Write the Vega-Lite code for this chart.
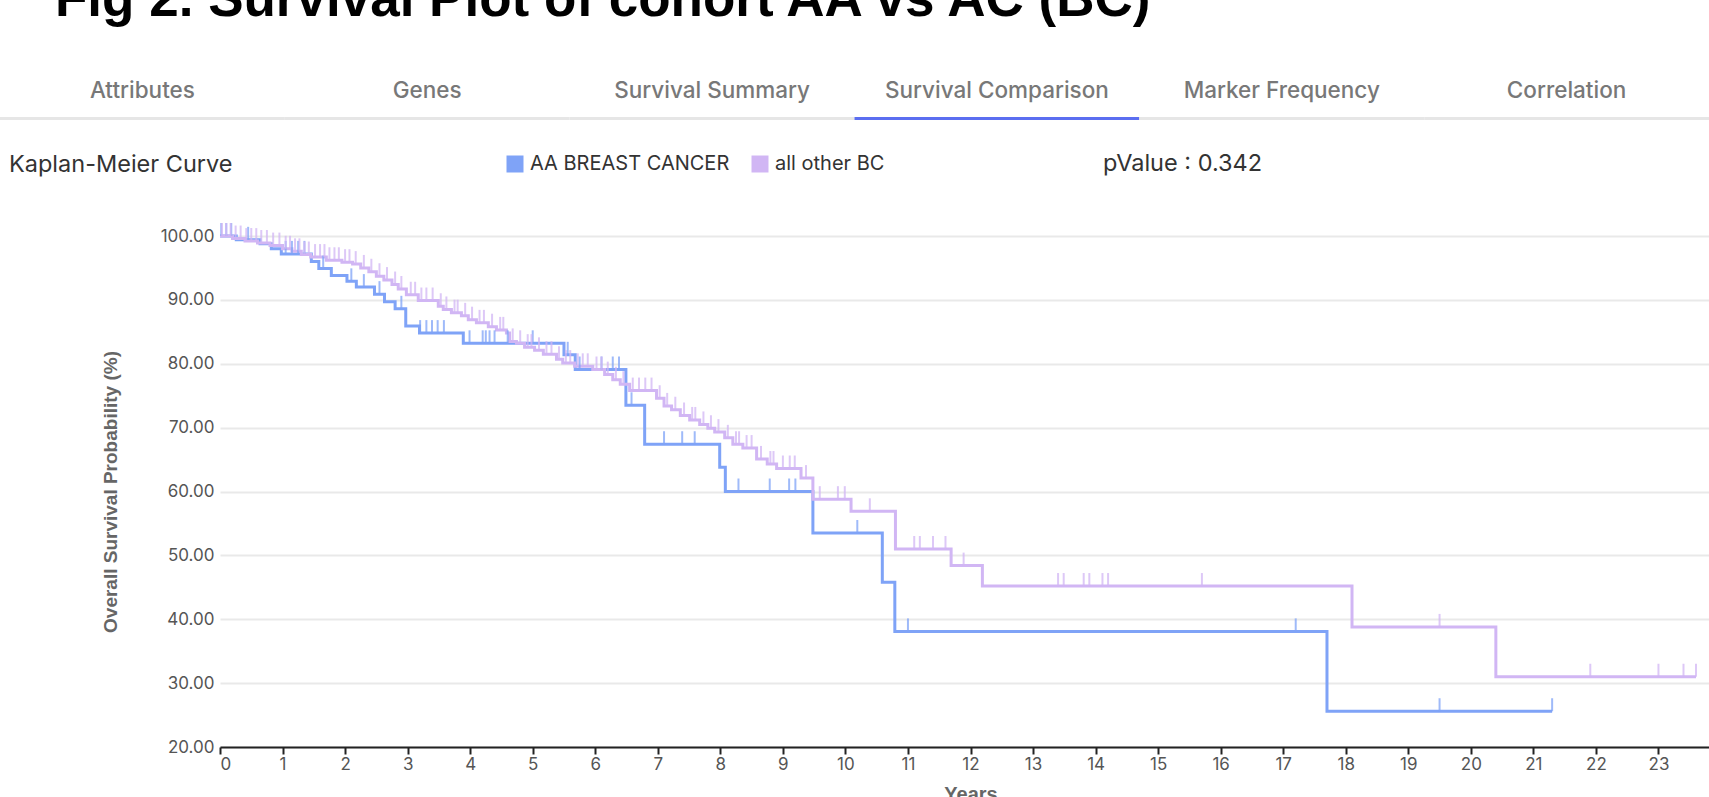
{
  "$schema": "https://vega.github.io/schema/vega-lite/v6.json",
  "padding": {"left": 0, "top": -26, "right": 0, "bottom": 0},
  "spacing": 32,
  "title": {"text": "Fig 2. Survival Plot of cohort AA vs AC (BC)", "anchor": "start", "frame": "bounds", "dx": 55, "offset": 10, "baseline": "alphabetic", "font": "Liberation Sans", "fontSize": 53, "fontWeight": "bold", "color": "#000000"},
  "config": {"view": {"stroke": null}},
  "datasets": {
    "tabs": [{"tab": "Attributes"}, {"tab": "Genes"}, {"tab": "Survival Summary"}, {"tab": "Survival Comparison"}, {"tab": "Marker Frequency"}, {"tab": "Correlation"}],
    "km": [
      {"group": "AA BREAST CANCER", "years": 0, "survival": 100},
      {"group": "AA BREAST CANCER", "years": 0.26, "survival": 99.4},
      {"group": "AA BREAST CANCER", "years": 0.64, "survival": 98.8},
      {"group": "AA BREAST CANCER", "years": 0.82, "survival": 98.0},
      {"group": "AA BREAST CANCER", "years": 0.98, "survival": 97.2},
      {"group": "AA BREAST CANCER", "years": 1.46, "survival": 96.0},
      {"group": "AA BREAST CANCER", "years": 1.58, "survival": 94.9},
      {"group": "AA BREAST CANCER", "years": 1.78, "survival": 93.8},
      {"group": "AA BREAST CANCER", "years": 2.03, "survival": 92.9},
      {"group": "AA BREAST CANCER", "years": 2.18, "survival": 92.0},
      {"group": "AA BREAST CANCER", "years": 2.47, "survival": 90.9},
      {"group": "AA BREAST CANCER", "years": 2.63, "survival": 89.7},
      {"group": "AA BREAST CANCER", "years": 2.80, "survival": 88.6},
      {"group": "AA BREAST CANCER", "years": 2.97, "survival": 85.9},
      {"group": "AA BREAST CANCER", "years": 3.19, "survival": 84.8},
      {"group": "AA BREAST CANCER", "years": 3.89, "survival": 83.2},
      {"group": "AA BREAST CANCER", "years": 5.50, "survival": 81.4},
      {"group": "AA BREAST CANCER", "years": 5.68, "survival": 79.1},
      {"group": "AA BREAST CANCER", "years": 6.49, "survival": 73.5},
      {"group": "AA BREAST CANCER", "years": 6.79, "survival": 67.4},
      {"group": "AA BREAST CANCER", "years": 7.99, "survival": 63.8},
      {"group": "AA BREAST CANCER", "years": 8.08, "survival": 60.0},
      {"group": "AA BREAST CANCER", "years": 9.48, "survival": 53.5},
      {"group": "AA BREAST CANCER", "years": 10.59, "survival": 45.8},
      {"group": "AA BREAST CANCER", "years": 10.79, "survival": 38.1},
      {"group": "AA BREAST CANCER", "years": 17.70, "survival": 25.6},
      {"group": "AA BREAST CANCER", "years": 21.30, "survival": 25.6},
      {"group": "all other BC", "years": 0, "survival": 100},
      {"group": "all other BC", "years": 0.20, "survival": 99.6},
      {"group": "all other BC", "years": 0.40, "survival": 99.2},
      {"group": "all other BC", "years": 0.60, "survival": 98.9},
      {"group": "all other BC", "years": 0.80, "survival": 98.5},
      {"group": "all other BC", "years": 1.00, "survival": 98.0},
      {"group": "all other BC", "years": 1.15, "survival": 97.6},
      {"group": "all other BC", "years": 1.30, "survival": 97.1},
      {"group": "all other BC", "years": 1.45, "survival": 96.7},
      {"group": "all other BC", "years": 1.70, "survival": 96.2},
      {"group": "all other BC", "years": 1.95, "survival": 95.9},
      {"group": "all other BC", "years": 2.12, "survival": 95.6},
      {"group": "all other BC", "years": 2.25, "survival": 95.0},
      {"group": "all other BC", "years": 2.38, "survival": 94.4},
      {"group": "all other BC", "years": 2.50, "survival": 93.7},
      {"group": "all other BC", "years": 2.62, "survival": 93.1},
      {"group": "all other BC", "years": 2.75, "survival": 92.4},
      {"group": "all other BC", "years": 2.85, "survival": 91.7},
      {"group": "all other BC", "years": 2.98, "survival": 90.8},
      {"group": "all other BC", "years": 3.17, "survival": 89.9},
      {"group": "all other BC", "years": 3.49, "survival": 89.0},
      {"group": "all other BC", "years": 3.57, "survival": 88.5},
      {"group": "all other BC", "years": 3.70, "survival": 88.0},
      {"group": "all other BC", "years": 3.86, "survival": 87.5},
      {"group": "all other BC", "years": 3.97, "survival": 86.9},
      {"group": "all other BC", "years": 4.10, "survival": 86.4},
      {"group": "all other BC", "years": 4.29, "survival": 85.8},
      {"group": "all other BC", "years": 4.42, "survival": 85.3},
      {"group": "all other BC", "years": 4.58, "survival": 84.8},
      {"group": "all other BC", "years": 4.63, "survival": 83.5},
      {"group": "all other BC", "years": 4.74, "survival": 83.2},
      {"group": "all other BC", "years": 4.87, "survival": 82.6},
      {"group": "all other BC", "years": 5.03, "survival": 82.1},
      {"group": "all other BC", "years": 5.17, "survival": 81.5},
      {"group": "all other BC", "years": 5.38, "survival": 80.7},
      {"group": "all other BC", "years": 5.48, "survival": 80.1},
      {"group": "all other BC", "years": 5.67, "survival": 79.6},
      {"group": "all other BC", "years": 5.96, "survival": 79.1},
      {"group": "all other BC", "years": 6.15, "survival": 78.3},
      {"group": "all other BC", "years": 6.28, "survival": 77.5},
      {"group": "all other BC", "years": 6.40, "survival": 76.8},
      {"group": "all other BC", "years": 6.55, "survival": 75.8},
      {"group": "all other BC", "years": 6.98, "survival": 74.6},
      {"group": "all other BC", "years": 7.10, "survival": 73.4},
      {"group": "all other BC", "years": 7.22, "survival": 72.8},
      {"group": "all other BC", "years": 7.36, "survival": 71.9},
      {"group": "all other BC", "years": 7.51, "survival": 71.2},
      {"group": "all other BC", "years": 7.67, "survival": 70.5},
      {"group": "all other BC", "years": 7.80, "survival": 69.9},
      {"group": "all other BC", "years": 7.91, "survival": 69.3},
      {"group": "all other BC", "years": 8.07, "survival": 68.4},
      {"group": "all other BC", "years": 8.20, "survival": 67.4},
      {"group": "all other BC", "years": 8.36, "survival": 66.8},
      {"group": "all other BC", "years": 8.58, "survival": 65.1},
      {"group": "all other BC", "years": 8.75, "survival": 64.3},
      {"group": "all other BC", "years": 8.90, "survival": 63.6},
      {"group": "all other BC", "years": 9.29, "survival": 62.1},
      {"group": "all other BC", "years": 9.48, "survival": 58.8},
      {"group": "all other BC", "years": 10.09, "survival": 56.9},
      {"group": "all other BC", "years": 10.80, "survival": 51.0},
      {"group": "all other BC", "years": 11.69, "survival": 48.4},
      {"group": "all other BC", "years": 12.19, "survival": 45.2},
      {"group": "all other BC", "years": 18.10, "survival": 38.8},
      {"group": "all other BC", "years": 20.40, "survival": 31.0},
      {"group": "all other BC", "years": 23.60, "survival": 31.0}
    ],
    "censor": [
      {"group": "AA BREAST CANCER", "years": 0.02, "survival": 100},
      {"group": "AA BREAST CANCER", "years": 0.10, "survival": 100},
      {"group": "AA BREAST CANCER", "years": 0.18, "survival": 100},
      {"group": "AA BREAST CANCER", "years": 0.45, "survival": 99.4},
      {"group": "AA BREAST CANCER", "years": 1.05, "survival": 97.2},
      {"group": "AA BREAST CANCER", "years": 1.15, "survival": 97.2},
      {"group": "AA BREAST CANCER", "years": 1.25, "survival": 97.2},
      {"group": "AA BREAST CANCER", "years": 1.35, "survival": 97.2},
      {"group": "AA BREAST CANCER", "years": 1.65, "survival": 94.9},
      {"group": "AA BREAST CANCER", "years": 2.10, "survival": 92.9},
      {"group": "AA BREAST CANCER", "years": 2.30, "survival": 92.0},
      {"group": "AA BREAST CANCER", "years": 2.55, "survival": 90.9},
      {"group": "AA BREAST CANCER", "years": 2.90, "survival": 88.6},
      {"group": "AA BREAST CANCER", "years": 3.20, "survival": 84.8},
      {"group": "AA BREAST CANCER", "years": 3.30, "survival": 84.8},
      {"group": "AA BREAST CANCER", "years": 3.39, "survival": 84.8},
      {"group": "AA BREAST CANCER", "years": 3.48, "survival": 84.8},
      {"group": "AA BREAST CANCER", "years": 3.58, "survival": 84.8},
      {"group": "AA BREAST CANCER", "years": 3.99, "survival": 83.2},
      {"group": "AA BREAST CANCER", "years": 4.20, "survival": 83.2},
      {"group": "AA BREAST CANCER", "years": 4.25, "survival": 83.2},
      {"group": "AA BREAST CANCER", "years": 4.31, "survival": 83.2},
      {"group": "AA BREAST CANCER", "years": 4.39, "survival": 83.2},
      {"group": "AA BREAST CANCER", "years": 4.60, "survival": 83.2},
      {"group": "AA BREAST CANCER", "years": 5.00, "survival": 83.2},
      {"group": "AA BREAST CANCER", "years": 5.56, "survival": 81.4},
      {"group": "AA BREAST CANCER", "years": 5.75, "survival": 79.1},
      {"group": "AA BREAST CANCER", "years": 6.10, "survival": 79.1},
      {"group": "AA BREAST CANCER", "years": 6.28, "survival": 79.1},
      {"group": "AA BREAST CANCER", "years": 6.38, "survival": 79.1},
      {"group": "AA BREAST CANCER", "years": 6.58, "survival": 73.5},
      {"group": "AA BREAST CANCER", "years": 7.10, "survival": 67.4},
      {"group": "AA BREAST CANCER", "years": 7.39, "survival": 67.4},
      {"group": "AA BREAST CANCER", "years": 7.59, "survival": 67.4},
      {"group": "AA BREAST CANCER", "years": 8.29, "survival": 60.0},
      {"group": "AA BREAST CANCER", "years": 8.79, "survival": 60.0},
      {"group": "AA BREAST CANCER", "years": 9.10, "survival": 60.0},
      {"group": "AA BREAST CANCER", "years": 9.20, "survival": 60.0},
      {"group": "AA BREAST CANCER", "years": 10.19, "survival": 53.5},
      {"group": "AA BREAST CANCER", "years": 11.00, "survival": 38.1},
      {"group": "AA BREAST CANCER", "years": 17.20, "survival": 38.1},
      {"group": "AA BREAST CANCER", "years": 19.50, "survival": 25.6},
      {"group": "AA BREAST CANCER", "years": 21.30, "survival": 25.6},
      {"group": "all other BC", "years": 0.03, "survival": 100},
      {"group": "all other BC", "years": 0.10, "survival": 100},
      {"group": "all other BC", "years": 0.17, "survival": 100},
      {"group": "all other BC", "years": 0.25, "survival": 99.6},
      {"group": "all other BC", "years": 0.33, "survival": 99.6},
      {"group": "all other BC", "years": 0.42, "survival": 99.2},
      {"group": "all other BC", "years": 0.50, "survival": 99.2},
      {"group": "all other BC", "years": 0.58, "survival": 99.2},
      {"group": "all other BC", "years": 0.66, "survival": 98.9},
      {"group": "all other BC", "years": 0.75, "survival": 98.9},
      {"group": "all other BC", "years": 0.85, "survival": 98.5},
      {"group": "all other BC", "years": 0.95, "survival": 98.5},
      {"group": "all other BC", "years": 1.05, "survival": 98.0},
      {"group": "all other BC", "years": 1.12, "survival": 98.0},
      {"group": "all other BC", "years": 1.20, "survival": 97.6},
      {"group": "all other BC", "years": 1.27, "survival": 97.6},
      {"group": "all other BC", "years": 1.35, "survival": 97.1},
      {"group": "all other BC", "years": 1.42, "survival": 97.1},
      {"group": "all other BC", "years": 1.52, "survival": 96.7},
      {"group": "all other BC", "years": 1.60, "survival": 96.7},
      {"group": "all other BC", "years": 1.67, "survival": 96.7},
      {"group": "all other BC", "years": 1.75, "survival": 96.2},
      {"group": "all other BC", "years": 1.83, "survival": 96.2},
      {"group": "all other BC", "years": 1.90, "survival": 96.2},
      {"group": "all other BC", "years": 2.00, "survival": 95.9},
      {"group": "all other BC", "years": 2.07, "survival": 95.9},
      {"group": "all other BC", "years": 2.17, "survival": 95.6},
      {"group": "all other BC", "years": 2.30, "survival": 95.0},
      {"group": "all other BC", "years": 2.42, "survival": 94.4},
      {"group": "all other BC", "years": 2.55, "survival": 93.7},
      {"group": "all other BC", "years": 2.67, "survival": 93.1},
      {"group": "all other BC", "years": 2.80, "survival": 92.4},
      {"group": "all other BC", "years": 2.90, "survival": 91.7},
      {"group": "all other BC", "years": 3.05, "survival": 90.8},
      {"group": "all other BC", "years": 3.12, "survival": 90.8},
      {"group": "all other BC", "years": 3.22, "survival": 89.9},
      {"group": "all other BC", "years": 3.30, "survival": 89.9},
      {"group": "all other BC", "years": 3.40, "survival": 89.9},
      {"group": "all other BC", "years": 3.53, "survival": 89.0},
      {"group": "all other BC", "years": 3.62, "survival": 88.5},
      {"group": "all other BC", "years": 3.75, "survival": 88.0},
      {"group": "all other BC", "years": 3.80, "survival": 88.0},
      {"group": "all other BC", "years": 3.92, "survival": 87.5},
      {"group": "all other BC", "years": 4.03, "survival": 86.9},
      {"group": "all other BC", "years": 4.15, "survival": 86.4},
      {"group": "all other BC", "years": 4.22, "survival": 86.4},
      {"group": "all other BC", "years": 4.35, "survival": 85.8},
      {"group": "all other BC", "years": 4.48, "survival": 85.3},
      {"group": "all other BC", "years": 4.53, "survival": 85.3},
      {"group": "all other BC", "years": 4.68, "survival": 83.5},
      {"group": "all other BC", "years": 4.80, "survival": 83.2},
      {"group": "all other BC", "years": 4.92, "survival": 82.6},
      {"group": "all other BC", "years": 4.98, "survival": 82.6},
      {"group": "all other BC", "years": 5.10, "survival": 82.1},
      {"group": "all other BC", "years": 5.22, "survival": 81.5},
      {"group": "all other BC", "years": 5.30, "survival": 81.5},
      {"group": "all other BC", "years": 5.42, "survival": 80.7},
      {"group": "all other BC", "years": 5.53, "survival": 80.1},
      {"group": "all other BC", "years": 5.60, "survival": 80.1},
      {"group": "all other BC", "years": 5.72, "survival": 79.6},
      {"group": "all other BC", "years": 5.80, "survival": 79.6},
      {"group": "all other BC", "years": 5.88, "survival": 79.6},
      {"group": "all other BC", "years": 6.02, "survival": 79.1},
      {"group": "all other BC", "years": 6.10, "survival": 79.1},
      {"group": "all other BC", "years": 6.20, "survival": 78.3},
      {"group": "all other BC", "years": 6.33, "survival": 77.5},
      {"group": "all other BC", "years": 6.45, "survival": 76.8},
      {"group": "all other BC", "years": 6.60, "survival": 75.8},
      {"group": "all other BC", "years": 6.70, "survival": 75.8},
      {"group": "all other BC", "years": 6.80, "survival": 75.8},
      {"group": "all other BC", "years": 6.90, "survival": 75.8},
      {"group": "all other BC", "years": 7.03, "survival": 74.6},
      {"group": "all other BC", "years": 7.15, "survival": 73.4},
      {"group": "all other BC", "years": 7.28, "survival": 72.8},
      {"group": "all other BC", "years": 7.42, "survival": 71.9},
      {"group": "all other BC", "years": 7.55, "survival": 71.2},
      {"group": "all other BC", "years": 7.60, "survival": 71.2},
      {"group": "all other BC", "years": 7.73, "survival": 70.5},
      {"group": "all other BC", "years": 7.85, "survival": 69.9},
      {"group": "all other BC", "years": 7.97, "survival": 69.3},
      {"group": "all other BC", "years": 8.12, "survival": 68.4},
      {"group": "all other BC", "years": 8.25, "survival": 67.4},
      {"group": "all other BC", "years": 8.30, "survival": 67.4},
      {"group": "all other BC", "years": 8.42, "survival": 66.8},
      {"group": "all other BC", "years": 8.50, "survival": 66.8},
      {"group": "all other BC", "years": 8.65, "survival": 65.1},
      {"group": "all other BC", "years": 8.80, "survival": 64.3},
      {"group": "all other BC", "years": 8.85, "survival": 64.3},
      {"group": "all other BC", "years": 9.00, "survival": 63.6},
      {"group": "all other BC", "years": 9.11, "survival": 63.6},
      {"group": "all other BC", "years": 9.19, "survival": 63.6},
      {"group": "all other BC", "years": 9.37, "survival": 62.1},
      {"group": "all other BC", "years": 9.59, "survival": 58.8},
      {"group": "all other BC", "years": 9.88, "survival": 58.8},
      {"group": "all other BC", "years": 9.99, "survival": 58.8},
      {"group": "all other BC", "years": 10.39, "survival": 56.9},
      {"group": "all other BC", "years": 11.10, "survival": 51.0},
      {"group": "all other BC", "years": 11.19, "survival": 51.0},
      {"group": "all other BC", "years": 11.40, "survival": 51.0},
      {"group": "all other BC", "years": 11.60, "survival": 51.0},
      {"group": "all other BC", "years": 11.89, "survival": 48.4},
      {"group": "all other BC", "years": 13.40, "survival": 45.2},
      {"group": "all other BC", "years": 13.49, "survival": 45.2},
      {"group": "all other BC", "years": 13.81, "survival": 45.2},
      {"group": "all other BC", "years": 13.90, "survival": 45.2},
      {"group": "all other BC", "years": 14.11, "survival": 45.2},
      {"group": "all other BC", "years": 14.20, "survival": 45.2},
      {"group": "all other BC", "years": 15.70, "survival": 45.2},
      {"group": "all other BC", "years": 19.50, "survival": 38.8},
      {"group": "all other BC", "years": 21.91, "survival": 31.0},
      {"group": "all other BC", "years": 23.00, "survival": 31.0},
      {"group": "all other BC", "years": 23.40, "survival": 31.0},
      {"group": "all other BC", "years": 23.60, "survival": 31.0}
    ]
  },
  "vconcat": [
    {
      "width": 1501,
      "height": 3,
      "data": {"name": "tabs"},
      "mark": {"type": "bar"},
      "encoding": {
        "x": {"field": "tab", "type": "nominal", "sort": null,
          "scale": {"domain": ["Attributes", "Genes", "Survival Summary", "Survival Comparison", "Marker Frequency", "Correlation"], "range": [-220, 1489], "paddingInner": 0, "paddingOuter": 0},
          "axis": {"orient": "top", "title": null, "ticks": false, "domain": false, "labelAngle": 0, "labelPadding": 27, "labelBaseline": "middle", "labelLimit": 400, "labelFont": "Inter", "labelFontSize": 22.5, "labelFontWeight": 500, "labelColor": "#787878"}},
        "color": {"condition": {"test": "datum.tab === 'Survival Comparison'", "value": "#5b6ef0"}, "value": "#e6e6e6"}
      }
    },
    {
      "width": 1501,
      "height": 511,
      "title": {"text": "Kaplan-Meier Curve", "anchor": "start", "frame": "group", "dx": -211, "offset": 35, "baseline": "middle", "font": "Inter", "fontSize": 23.5, "fontWeight": "normal", "color": "#333333"},
      "layer": [
        {
          "data": {"name": "km"},
          "mark": {"type": "line", "interpolate": "step-after", "strokeWidth": 3},
          "encoding": {
            "x": {"field": "years", "type": "quantitative", "scale": {"domain": [0, 24], "nice": false},
              "axis": {"values": [0,1,2,3,4,5,6,7,8,9,10,11,12,13,14,15,16,17,18,19,20,21,22,23], "format": "d", "grid": false, "title": "Years", "domainColor": "#222222", "domainWidth": 2, "tickColor": "#222222", "tickWidth": 2, "tickSize": 7, "labelPadding": 2, "labelFont": "Inter", "labelFontSize": 17, "labelColor": "#555555", "titleFont": "Liberation Sans", "titleFontSize": 20, "titleFontWeight": "bold", "titleColor": "#666666", "titlePadding": 12}},
            "y": {"field": "survival", "type": "quantitative", "scale": {"domain": [20, 100], "nice": false, "zero": false},
              "axis": {"values": [20,30,40,50,60,70,80,90,100], "format": ".2f", "grid": true, "gridColor": "#e9e9e9", "gridWidth": 2, "domain": false, "ticks": false, "labelPadding": 6, "labelFont": "Inter", "labelFontSize": 17, "labelColor": "#555555", "title": "Overall Survival Probability (%)", "titleFont": "Liberation Sans", "titleFontSize": 19, "titleFontWeight": "bold", "titleColor": "#666666", "titlePadding": 40}},
            "color": {"field": "group", "type": "nominal",
              "scale": {"domain": ["AA BREAST CANCER", "all other BC"], "range": ["#7fa3f7", "#d1b6f4"]},
              "legend": {"orient": "none", "legendX": 285, "legendY": 37, "direction": "horizontal", "padding": 0, "offset": 0,
                "title": "pValue : 0.342", "titleOrient": "right", "titlePadding": 219, "titleFont": "Inter", "titleFontSize": 23.5, "titleFontWeight": "normal", "titleColor": "#333333",
                "symbolType": "square", "symbolSize": 289, "symbolStrokeWidth": 0, "symbolOpacity": 1,
                "labelFont": "Inter", "labelFontSize": 20, "labelLimit": 400, "labelColor": "#333333", "labelOffset": 5, "columnPadding": 20,
                "encode": {"symbols": {"update": {"fill": {"scale": "color", "field": "value"}, "stroke": {"value": "transparent"}}}}}}
          }
        },
        {
          "data": {"name": "censor"},
          "mark": {"type": "tick", "orient": "vertical", "size": 13, "thickness": 2, "yOffset": -6.5, "opacity": 0.75},
          "encoding": {
            "x": {"field": "years", "type": "quantitative"},
            "y": {"field": "survival", "type": "quantitative"},
            "color": {"field": "group", "type": "nominal"}
          }
        }
      ]
    }
  ]
}
